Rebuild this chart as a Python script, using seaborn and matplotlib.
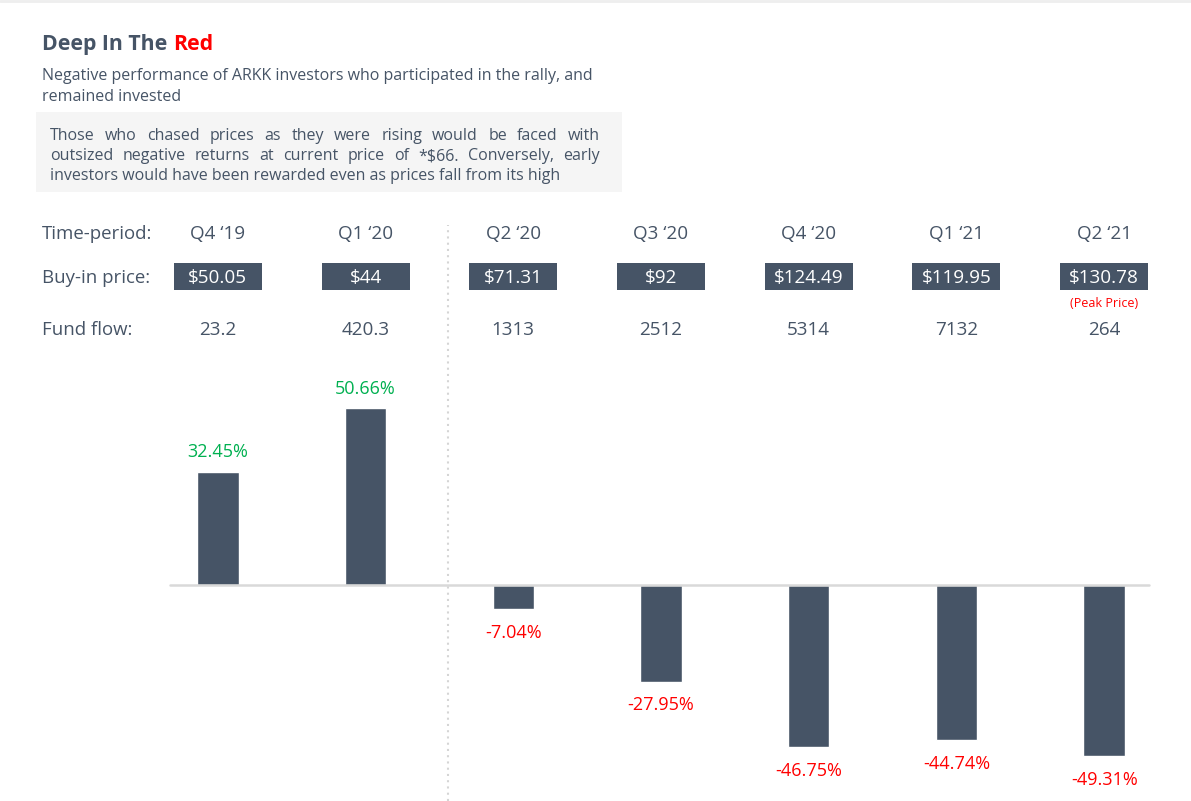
import pandas as pd
import matplotlib.pyplot as plt
import matplotlib.transforms as mtransforms
from matplotlib.patches import Rectangle
from matplotlib.lines import Line2D
import seaborn as sns

# --- data ---
periods = ["Q4 \u201819", "Q1 \u201820", "Q2 \u201820", "Q3 \u201820", "Q4 \u201820", "Q1 \u201821", "Q2 \u201821"]
buy_in = ["$50.05", "$44", "$71.31", "$92", "$124.49", "$119.95", "$130.78"]
fund_flow = ["23.2", "420.3", "1313", "2512", "5314", "7132", "264"]
returns = [32.45, 50.66, -7.04, -27.95, -46.75, -44.74, -49.31]

title = "Deep In The "
title_red = "Red"
subtitle = ["Negative performance of ARKK investors who participated in the rally, and",
            "remained invested"]
note = ["Those who chased prices as they were rising would be faced with",
        "outsized negative returns at current price of *$66. Conversely, early",
        "investors would have been rewarded even as prices fall from its high"]

TEXT = "#465466"
BAR = "#465466"
GREEN = "#00b050"
RED = "#ff0000"

sns.set_theme(style="white")
plt.rcParams['font.family'] = ['Open Sans', 'DejaVu Sans']

W, H = 1191, 801
fig = plt.figure(figsize=(W / 100, H / 100), dpi=100)


def px(x, y):
    # pixel position -> figure fraction
    return x / W, 1 - y / H


# faint top border
fig.add_artist(Line2D([0, 1], [1 - 1 / H, 1 - 1 / H], transform=fig.transFigure,
                      color="#eeeeee", lw=2))

# --- title / subtitle ---
renderer = fig.canvas.get_renderer()
t = fig.text(*px(42, 42), title, fontsize=15.3, fontweight="bold", color=TEXT, va="center_baseline")
bb = t.get_window_extent(renderer)
fig.text(bb.x1 / W, 1 - 42 / H, title_red, fontsize=15.3, fontweight="bold", color=RED,
         va="center_baseline")

for i, line in enumerate(subtitle):
    fig.text(*px(42, 74 + i * 21), line, fontsize=11.5, color=TEXT, va="center_baseline")

# grey note box with justified text
fig.add_artist(Rectangle(px(36, 192), (622 - 36) / W, (192 - 112) / H,
                         transform=fig.transFigure, facecolor="#f5f5f5", edgecolor="none", zorder=0))


def justified(lines, x0, x1, y0, dy, **kw):
    for i, line in enumerate(lines):
        y = y0 + i * dy
        if i == len(lines) - 1:
            fig.text(*px(x0, y), line, va="center_baseline", **kw)
            continue
        words = line.split()
        widths = []
        for w in words:
            tmp = fig.text(0, 0, w, **kw)
            widths.append(tmp.get_window_extent(renderer).width)
            tmp.remove()
        gap = (x1 - x0 - sum(widths)) / (len(words) - 1)
        x = x0
        for w, wd in zip(words, widths):
            fig.text(*px(x, y), w, va="center_baseline", **kw)
            x += wd + gap


justified(note, 50, 600, 134, 20, fontsize=11.5, color=TEXT)

# --- bar chart ---
ax = fig.add_axes([144 / W, 1 / H, 1034 / W, 440 / H])
df = pd.DataFrame({"period": periods, "ret": returns})
sns.barplot(data=df, x="period", y="ret", color=BAR, width=0.28, saturation=1, ax=ax, zorder=2)
ax.set_ylim(-(800 - 585) / 3.47, (585 - 361) / 3.47)
ax.set_xlim(-0.5, len(periods) - 0.5)
ax.axhline(0, xmin=26 / 1034, xmax=1005 / 1034, color="#d9d9d9", lw=1.8, zorder=3)
ax.set_axis_off()

for i, v in enumerate(returns):
    ax.annotate(f"{v:.2f}%", (i, v), xytext=(0, 15.5 if v > 0 else -15.5), textcoords="offset points",
                ha="center", va="center_baseline", fontsize=13, color=GREEN if v > 0 else RED)

# --- header rows above the bars ---
blend = mtransforms.blended_transform_factory(ax.transData, fig.transFigure)
row_y = {"Time-period:": 232, "Buy-in price:": 276, "Fund flow:": 328}
for lab, y in row_y.items():
    fig.text(*px(42, y), lab, fontsize=13.4, color=TEXT, va="center_baseline")

box_w = 88 / 147.7
for i in range(len(periods)):
    ax.text(i, 1 - 232 / H, periods[i], transform=blend, ha="center", va="center_baseline",
            fontsize=13.6, color=TEXT)
    ax.add_patch(Rectangle((i - box_w / 2, 1 - 290 / H), box_w, 27 / H, transform=blend,
                           facecolor=BAR, edgecolor="none", clip_on=False))
    ax.text(i, 1 - 276 / H, buy_in[i], transform=blend, ha="center", va="center_baseline",
            fontsize=13.6, color="white", clip_on=False)
    ax.text(i, 1 - 328 / H, fund_flow[i], transform=blend, ha="center", va="center_baseline",
            fontsize=13.6, color=TEXT)

ax.text(len(periods) - 1, 1 - 302 / H, "(Peak Price)", transform=blend, ha="center",
        va="center_baseline", fontsize=9, color=RED)

# dotted divider between Q1 '20 and Q2 '20
fig.add_artist(Line2D([448 / W, 448 / W], [0, 1 - 225 / H], transform=fig.transFigure,
                      color="#d5d5d5", lw=1.5, linestyle=(0, (1, 2))))

fig.savefig("out.png", dpi=100, facecolor="white")
